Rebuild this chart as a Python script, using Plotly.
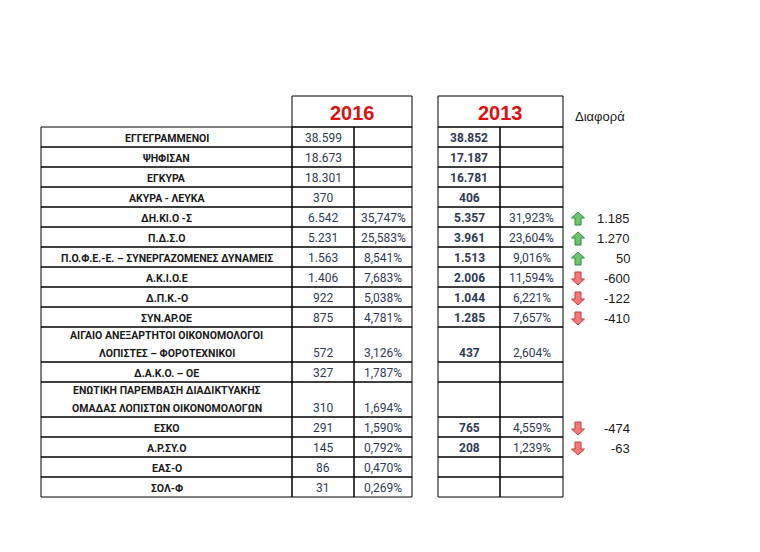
import plotly.graph_objects as go

OUTPUT_FILE = 'out.html'

# ---- data ----
PARTIES = [
    'ΕΓΓΕΓΡΑΜΜΕΝΟΙ', 'ΨΗΦΙΣΑΝ', 'ΕΓΚΥΡΑ', 'ΑΚΥΡΑ - ΛΕΥΚΑ',
    'ΔΗ.ΚΙ.Ο -Σ', 'Π.Δ.Σ.Ο', 'Π.Ο.Φ.Ε.-Ε. – ΣΥΝΕΡΓΑΖΟΜΕΝΕΣ ΔΥΝΑΜΕΙΣ',
    'Α.Κ.Ι.Ο.Ε', 'Δ.Π.Κ.-Ο', 'ΣΥΝ.ΑΡ.ΟΕ',
    'ΑΙΓΑΙΟ ΑΝΕΞΑΡΤΗΤΟΙ ΟΙΚΟΝΟΜΟΛΟΓΟΙ<br>ΛΟΠΙΣΤΕΣ – ΦΟΡΟΤΕΧΝΙΚΟΙ',
    'Δ.Α.Κ.Ο. – ΟΕ',
    'ΕΝΩΤΙΚΗ ΠΑΡΕΜΒΑΣΗ ΔΙΑΔΙΚΤΥΑΚΗΣ<br>ΟΜΑΔΑΣ ΛΟΠΙΣΤΩΝ ΟΙΚΟΝΟΜΟΛΟΓΩΝ',
    'ΕΣΚΟ', 'Α.Ρ.ΣΥ.Ο', 'ΕΑΣ-Ο', 'ΣΟΛ-Φ',
]
VOTES_2016 = [38599, 18673, 18301, 370, 6542, 5231, 1563, 1406, 922, 875,
              572, 327, 310, 291, 145, 86, 31]
PCT_2016 = [None, None, None, None, 35.747, 25.583, 8.541, 7.683, 5.038, 4.781,
            3.126, 1.787, 1.694, 1.590, 0.792, 0.470, 0.269]
VOTES_2013 = [38852, 17187, 16781, 406, 5357, 3961, 1513, 2006, 1044, 1285,
              437, None, None, 765, 208, None, None]
PCT_2013 = [None, None, None, None, 31.923, 23.604, 9.016, 11.594, 6.221, 7.657,
            2.604, None, None, 4.559, 1.239, None, None]
DIFF = [None, None, None, None, 1185, 1270, 50, -600, -122, -410,
        None, None, None, -474, -63, None, None]
YEARS = ['2016', '2013']
DIFF_LABEL = 'Διαφορά'

# ---- layout (pixel grid of the sheet) ----
W, H = 760, 552
PAGE_PAD = 8  # body margin of the html page
X_NAME = (41, 292)
X_V16 = (292, 354)
X_P16 = (354, 412)
X_V13 = (438, 500)
X_P13 = (500, 563)
HEAD_TOP, TABLE_TOP = 96, 127
ROW_H, ROW_H2 = 20, 35
X_ARROW, X_DIFF = 578, 632

NUM_COLOR = '#2e3b59'
TXT_COLOR = '#1a1a1a'
FONT = 'Roboto, Liberation Sans, sans-serif'
SANS = 'Liberation Sans, Arial, sans-serif'


def fmt_int(v):
    return f'{v:,}'.replace(',', '.')


def fmt_pct(v):
    return f'{v:.3f}'.replace('.', ',') + '%'


fig = go.Figure()
shapes, annos = [], []


def cell(x0, x1, y0, y1):
    shapes.append(dict(type='rect', xref='x', yref='y', x0=x0, x1=x1, y0=y0, y1=y1,
                       line=dict(color='black', width=1), fillcolor='rgba(0,0,0,0)'))


def text(x, y, s, size=12, color=TXT_COLOR, bold=False, xanchor='center', family=FONT):
    annos.append(dict(x=x, y=y, xref='x', yref='y', text=f'<b>{s}</b>' if bold else s,
                      showarrow=False, xanchor=xanchor, yanchor='middle',
                      font=dict(size=size, color=color, family=family)))


# header boxes
for (x0, x1), yr in zip([(X_V16[0], X_P16[1]), (X_V13[0], X_P13[1])], YEARS):
    cell(x0, x1, HEAD_TOP, TABLE_TOP)
    text((x0 + x1) / 2, (HEAD_TOP + TABLE_TOP) / 2 + 1, yr, size=20, color='#e01010',
         bold=True, family=SANS)
text(600, 116, DIFF_LABEL, size=13, color=TXT_COLOR, family=SANS)

y = TABLE_TOP
for i, name in enumerate(PARTIES):
    two = '<br>' in name
    h = ROW_H2 if two else ROW_H
    y0, y1 = y, y + h
    yc = y1 - 9
    for xs in (X_NAME, X_V16, X_P16, X_V13, X_P13):
        cell(xs[0], xs[1], y0, y1)
    xn = sum(X_NAME) / 2
    if two:
        l1, l2 = name.split('<br>')
        text(xn, yc - 18, l1, size=10.5, bold=True)
        text(xn, yc, l2, size=10.5, bold=True)
    else:
        text(xn, yc, name, size=10.5, bold=True)
    text(sum(X_V16) / 2, yc, fmt_int(VOTES_2016[i]), color=NUM_COLOR)
    if PCT_2016[i] is not None:
        text(sum(X_P16) / 2, yc, fmt_pct(PCT_2016[i]), color=NUM_COLOR)
    if VOTES_2013[i] is not None:
        text(sum(X_V13) / 2, yc, fmt_int(VOTES_2013[i]), color=NUM_COLOR, bold=True)
    if PCT_2013[i] is not None:
        text(sum(X_P13) / 2, yc, fmt_pct(PCT_2013[i]), color=NUM_COLOR)
    d = DIFF[i]
    if d is not None:
        text(X_DIFF, yc, fmt_int(d), size=13, xanchor='right', family=SANS)
        # block arrow: pointing up for gains, down for losses (y axis runs downward)
        ya = yc + 0.5
        s = 1 if d > 0 else -1
        tip, base = ya - s * 6.5, ya + s * 6.5
        neck = tip + s * 6
        xa = X_ARROW
        path = (f'M{xa},{tip} L{xa + 6.5},{neck} L{xa + 3},{neck} L{xa + 3},{base} '
                f'L{xa - 3},{base} L{xa - 3},{neck} L{xa - 6.5},{neck} Z')
        fill, edge = ('#6cc46c', '#2f8a3a') if d > 0 else ('#f47a7a', '#c83a3a')
        shapes.append(dict(type='path', xref='x', yref='y', path=path,
                           fillcolor=fill, line=dict(color=edge, width=1)))
    y = y1

fig.update_layout(
    width=W, height=H,
    margin=dict(l=0, r=0, t=0, b=0),
    paper_bgcolor='white', plot_bgcolor='white',
    xaxis=dict(range=[PAGE_PAD, W + PAGE_PAD], visible=False, fixedrange=True),
    yaxis=dict(range=[H + PAGE_PAD, PAGE_PAD], visible=False, fixedrange=True),
    shapes=shapes, annotations=annos,
    showlegend=False,
)

fig.write_html(OUTPUT_FILE)
